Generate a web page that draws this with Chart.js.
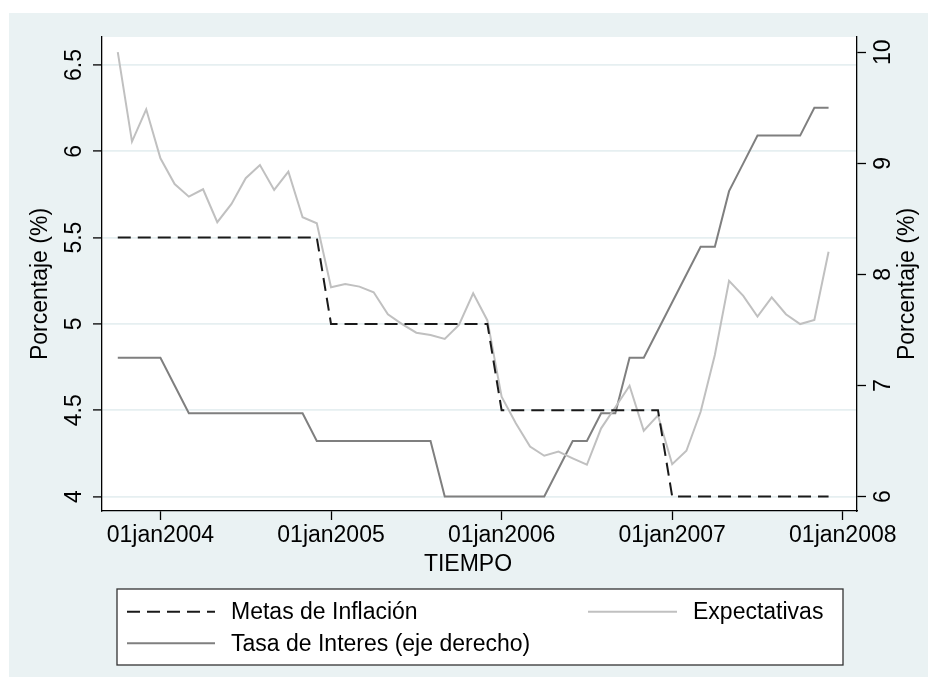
<!DOCTYPE html>
<html><head><meta charset="utf-8">
<script src="https://cdn.jsdelivr.net/npm/chart.js@4.4.0/dist/chart.umd.min.js"></script>
<style>html,body{margin:0;padding:0;background:#fff;}#wrap{width:937px;height:687px;}</style>
</head><body><div id="wrap"><canvas id="c" width="937" height="687"></canvas></div>
<script>
// ---- data (monthly, Oct 2003 .. Dec 2007) ----
const months = ['2003-10','2003-11','2003-12',
 '2004-01','2004-02','2004-03','2004-04','2004-05','2004-06','2004-07','2004-08','2004-09','2004-10','2004-11','2004-12',
 '2005-01','2005-02','2005-03','2005-04','2005-05','2005-06','2005-07','2005-08','2005-09','2005-10','2005-11','2005-12',
 '2006-01','2006-02','2006-03','2006-04','2006-05','2006-06','2006-07','2006-08','2006-09','2006-10','2006-11','2006-12',
 '2007-01','2007-02','2007-03','2007-04','2007-05','2007-06','2007-07','2007-08','2007-09','2007-10','2007-11','2007-12'];
const metas = [5.5,5.5,5.5, 5.5,5.5,5.5,5.5,5.5,5.5,5.5,5.5,5.5,5.5,5.5,5.5,
 5,5,5,5,5,5,5,5,5,5,5,5,
 4.5,4.5,4.5,4.5,4.5,4.5,4.5,4.5,4.5,4.5,4.5,4.5,
 4,4,4,4,4,4,4,4,4,4,4,4];
const expectativas = [6.574,6.056,6.243,
 5.959,5.81,5.737,5.78,5.589,5.695,5.844,5.92,5.776,5.882,5.618,5.583,
 5.212,5.231,5.216,5.183,5.056,4.999,4.949,4.936,4.913,4.994,5.177,5.02,
 4.578,4.424,4.289,4.236,4.26,4.221,4.184,4.395,4.517,4.642,4.381,4.47,
 4.187,4.265,4.491,4.82,5.249,5.162,5.042,5.154,5.056,4.999,5.023,5.418];
const tasaInteres = [7.25,7.25,7.25,
 7.25,7.0,6.75,6.75,6.75,6.75,6.75,6.75,6.75,6.75,6.75,6.5,
 6.5,6.5,6.5,6.5,6.5,6.5,6.5,6.5,6.0,6.0,6.0,6.0,
 6.0,6.0,6.0,6.0,6.25,6.5,6.5,6.75,6.75,7.25,7.25,7.5,
 7.75,8.0,8.25,8.25,8.75,9.0,9.25,9.25,9.25,9.25,9.5,9.5];
const xTickDates = ['2004-01','2005-01','2006-01','2007-01','2008-01'];
const xTickLabels = ['01jan2004','01jan2005','01jan2006','01jan2007','01jan2008'];
const leftTicks = [4,4.5,5,5.5,6,6.5];
const leftTickLabels = ['4','4.5','5','5.5','6','6.5'];
const rightTicks = [6,7,8,9,10];
const rightTickLabels = ['6','7','8','9','10'];
const seriesNames = ['Metas de Inflación','Expectativas','Tasa de Interes (eje derecho)'];

function monthIndex(s){const [y,m]=s.split('-').map(Number);const [y0,m0]=months[0].split('-').map(Number);return (y-y0)*12+(m-m0);}
const pts = arr => arr.map((v,i)=>({x:monthIndex(months[i]),y:v}));

const FONT = '"Liberation Sans", Arial, Helvetica, sans-serif';
const FS = 23;

const bgPlugin = {
  id:'bg',
  beforeDraw(chart){
    const ctx=chart.ctx, a=chart.chartArea;
    ctx.save();
    ctx.fillStyle='#ffffff';ctx.fillRect(0,0,chart.width,chart.height);
    ctx.fillStyle='#EAF2F3';ctx.fillRect(9,13,919,664);
    ctx.fillStyle='#ffffff';ctx.fillRect(a.left,a.top,a.right-a.left,a.bottom-a.top);
    ctx.restore();
  }
};

const textPlugin = {
  id:'texts',
  afterDraw(chart){
    const ctx=chart.ctx, a=chart.chartArea;
    const xs=chart.scales.x, yl=chart.scales.y, yr=chart.scales.y1;
    ctx.save();
    ctx.fillStyle='#000';
    ctx.font = FS+'px '+FONT;
    // x tick labels
    ctx.textAlign='center';ctx.textBaseline='alphabetic';
    xs.ticks.forEach((t,i)=>{ctx.fillText(xTickLabels[i], xs.getPixelForValue(t.value), 541.5);});
    // x title
    ctx.fillText('TIEMPO', 468, 571);
    // left tick labels (rotated)
    yl.ticks.forEach((t,i)=>{
      ctx.save();ctx.translate(81, yl.getPixelForValue(t.value));ctx.rotate(-Math.PI/2);
      ctx.textAlign='center';ctx.textBaseline='alphabetic';ctx.fillText(leftTickLabels[i],0,0);ctx.restore();
    });
    yr.ticks.forEach((t,i)=>{
      ctx.save();ctx.translate(890, yr.getPixelForValue(t.value));ctx.rotate(-Math.PI/2);
      ctx.textAlign='center';ctx.textBaseline='alphabetic';ctx.fillText(rightTickLabels[i],0,0);ctx.restore();
    });
    // axis titles
    const cy=284;
    [[46.5,'Porcentaje (%)'],[913.5,'Porcentaje (%)']].forEach(([x,s])=>{
      ctx.save();ctx.translate(x,cy);ctx.rotate(-Math.PI/2);ctx.textAlign='center';ctx.textBaseline='alphabetic';ctx.fillText(s,0,0);ctx.restore();
    });
    // legend box
    const L={x:117,y:589,w:726,h:76};
    ctx.fillStyle='#fff';ctx.fillRect(L.x,L.y,L.w,L.h);
    ctx.strokeStyle='#333';ctx.lineWidth=1.3;ctx.strokeRect(L.x,L.y,L.w,L.h);
    const cols=[{x0:127,x1:215,tx:231},{x0:588,x1:677,tx:693}];
    const rows=[611.7,643.3];
    chart.data.datasets.forEach((ds,i)=>{
      const c=cols[i%2], r=rows[Math.floor(i/2)];
      ctx.save();
      ctx.strokeStyle=ds.borderColor;ctx.lineWidth=ds.borderWidth;ctx.setLineDash(ds.borderDash||[]);
      ctx.beginPath();ctx.moveTo(c.x0,r);ctx.lineTo(c.x1,r);ctx.stroke();
      ctx.restore();
      ctx.fillStyle='#000';ctx.textAlign='left';ctx.textBaseline='middle';
      ctx.fillText(ds.label,c.tx,r+1);
    });
    ctx.restore();
  }
};

const tickGrid = {drawOnChartArea:false, drawTicks:true, tickLength:9, tickColor:'#000', tickWidth:1.3};

new Chart(document.getElementById('c'),{
  type:'line',
  data:{datasets:[
    {label:seriesNames[0], data:pts(metas), yAxisID:'y', borderColor:'#1a1a1a', borderWidth:2, borderDash:[13,7], pointRadius:0, tension:0},
    {label:seriesNames[1], data:pts(expectativas), yAxisID:'y', borderColor:'#C0C0C0', borderWidth:2, pointRadius:0, tension:0},
    {label:seriesNames[2], data:pts(tasaInteres), yAxisID:'y1', borderColor:'#7F7F7F', borderWidth:2, pointRadius:0, tension:0}
  ]},
  options:{
    responsive:false, animation:false, devicePixelRatio:1,
    layout:{padding:{top:37,left:0,right:0,bottom:0}},
    plugins:{legend:{display:false},tooltip:{enabled:false},title:{display:false}},
    scales:{
      x:{type:'linear', min:-1.11, max:52.0,
        afterBuildTicks:s=>{s.ticks=xTickDates.map(d=>({value:monthIndex(d)}));},
        ticks:{display:false}, grid:tickGrid, border:{color:'#000',width:1.3},
        afterFit:s=>{s.height=176;}},
      y:{type:'linear', position:'left', min:3.916, max:6.662,
        afterBuildTicks:s=>{s.ticks=leftTicks.map(v=>({value:v}));},
        ticks:{display:false},
        grid:{drawOnChartArea:true, color:'#E6EFF1', lineWidth:1.8, drawTicks:true, tickLength:9, tickColor:'#000', tickWidth:1.3},
        border:{color:'#000',width:1.3},
        afterFit:s=>{s.width=102;}},
      y1:{type:'linear', position:'right', min:5.870, max:10.138,
        afterBuildTicks:s=>{s.ticks=rightTicks.map(v=>({value:v}));},
        ticks:{display:false}, grid:tickGrid, border:{color:'#000',width:1.3},
        afterFit:s=>{s.width=80;}}
    }
  },
  plugins:[bgPlugin,textPlugin]
});
</script></body></html>
